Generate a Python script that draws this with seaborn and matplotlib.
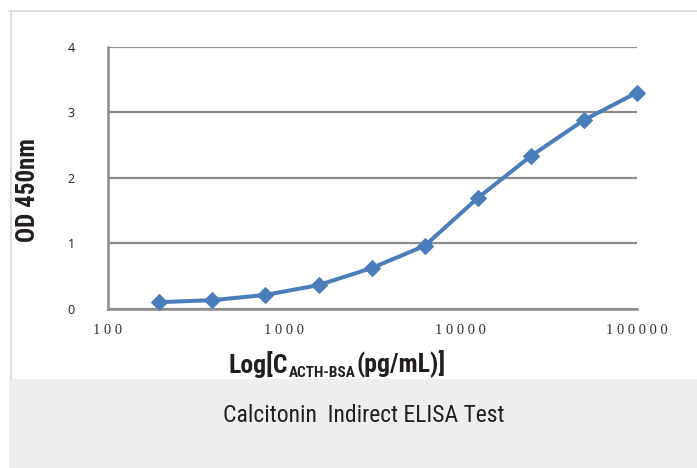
import matplotlib
matplotlib.use("Agg")
import matplotlib.pyplot as plt
from matplotlib import font_manager
from matplotlib.patches import Rectangle
from matplotlib.lines import Line2D
import seaborn as sns
import pandas as pd

# ─── Data ─────────────────────────────────────────────────────────────────────
conc = [195.3, 390.6, 781.25, 1562.5, 3125, 6250, 12500, 25000, 50000, 100000]
od450 = [0.10, 0.13, 0.21, 0.36, 0.62, 0.96, 1.69, 2.33, 2.88, 3.30]
xticks = [100, 1000, 10000, 100000]
xtick_labels = ["100", "1000", "10000", "100000"]
yticks = [0, 1, 2, 3, 4]

df = pd.DataFrame({"conc": conc, "od": od450})

sns.set_theme(style="white")

installed = {f.name for f in font_manager.fontManager.ttflist}
def pick(*names):
    for n in names:
        if n in installed:
            return n
    return "DejaVu Sans"

NARROW = pick("Liberation Sans Narrow", "Roboto Condensed", "Liberation Sans")
SANS = pick("Open Sans", "Liberation Sans")
SERIF = pick("Liberation Serif", "DejaVu Serif")
plt.rcParams["font.family"] = [SANS, "DejaVu Sans"]

W, H = 697, 468
fig = plt.figure(figsize=(W / 100, H / 100), dpi=100)
fig.patch.set_facecolor("white")

# outer frame + caption band
fig.add_artist(Line2D([9 / W, 1], [1 - 11 / H, 1 - 11 / H], transform=fig.transFigure,
                      color="#d4d4d4", lw=1.2))
fig.add_artist(Line2D([11 / W, 11 / W], [1 - 11 / H, 1 - 379 / H], transform=fig.transFigure,
                      color="#d4d4d4", lw=1.2))
fig.add_artist(Rectangle((9 / W, 0), 1, 1 - 379 / H, transform=fig.transFigure,
                         facecolor="#eeeeee", edgecolor="none", zorder=0))

ax = fig.add_axes([108 / W, 1 - 308.7 / H, (637 - 108) / W, (308.7 - 46.7) / H])
ax.set_facecolor("white")

sns.lineplot(data=df, x="conc", y="od", ax=ax, color="#4a7ebb", linewidth=2.9,
             marker="D", markersize=8, markeredgecolor="#4a7ebb", zorder=5,
             clip_on=False)

ax.set_xscale("log")
ax.set_xlim(100, 100000)
ax.set_ylim(0, 4)
ax.set_xticks(xticks)
ax.set_xticklabels([" ".join(s) for s in xtick_labels], fontfamily=SERIF, fontsize=10.5,
                   color="#333333")
ax.minorticks_off()
ax.set_yticks(yticks)
ax.set_yticklabels([str(v) for v in yticks], fontsize=9, color="#222222")
ax.tick_params(axis="x", length=0, pad=11)
ax.tick_params(axis="y", length=0, pad=24)

ax.yaxis.grid(True, color="#8c8c8c", linewidth=1.6)
ax.xaxis.grid(False)
for side in ["top", "right"]:
    ax.spines[side].set_visible(False)
for side in ["left", "bottom"]:
    ax.spines[side].set_color("#8c8c8c")
    ax.spines[side].set_linewidth(1.8)
ax.set_xlabel("")
ax.set_ylabel("")

# axis titles
fig.text(28 / W, 1 - 190 / H, "OD 450nm", rotation=90, ha="center", va="center",
         fontfamily=NARROW, fontweight="bold", fontsize=18, color="#231f20")

t1 = fig.text(229 / W, 1 - 373 / H, "Log[C", ha="left", va="baseline",
              fontfamily=NARROW, fontweight="bold", fontsize=18.5, color="#231f20")
t2 = ax.annotate("ACTH-BSA", xy=(1, 0), xycoords=t1, xytext=(0.5, -1.5),
                 textcoords="offset points", ha="left", va="bottom",
                 fontfamily=NARROW, fontweight="bold", fontsize=11, color="#231f20",
                 annotation_clip=False)
t3 = ax.annotate("(pg/mL)]", xy=(1, 0), xycoords=(t2, t1), xytext=(0.5, 0),
                 textcoords="offset points", ha="left", va="bottom",
                 fontfamily=NARROW, fontweight="bold", fontsize=18.5, color="#231f20",
                 annotation_clip=False)

fig.text(364 / W, 1 - 415 / H, "Calcitonin  Indirect ELISA Test", ha="center", va="center",
         fontfamily=NARROW, fontsize=17, color="#231f20")

plt.savefig("out.png", dpi=100)
plt.close()
